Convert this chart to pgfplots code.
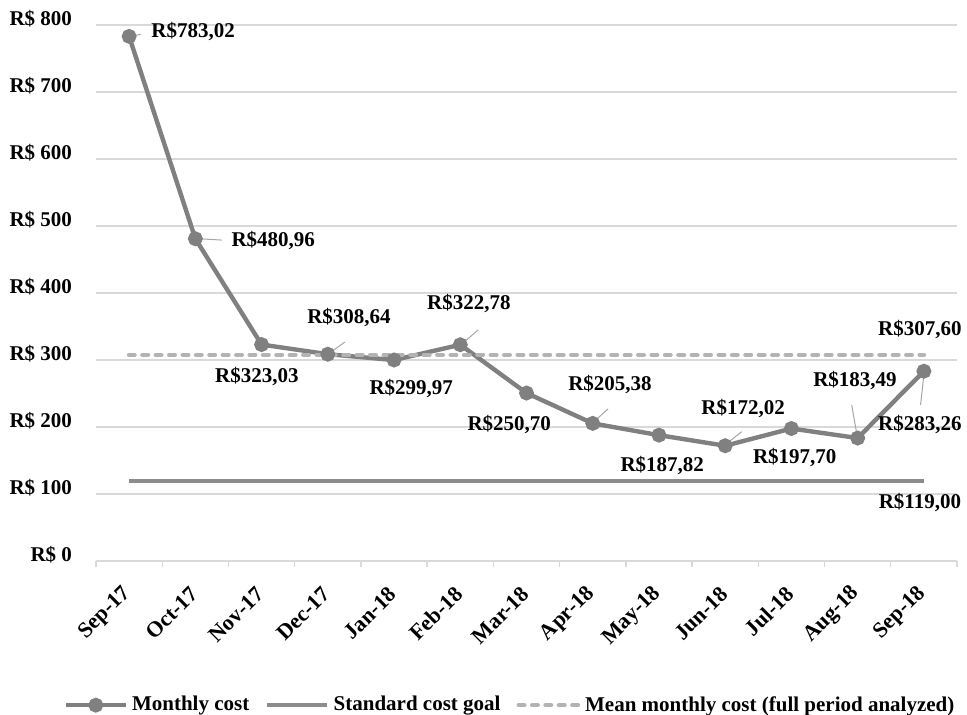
\documentclass[border=0pt]{standalone}
\usepackage{fontspec}
\setmainfont{Liberation Serif}
\usepackage{pgfplots}
\pgfplotsset{compat=1.18}
\definecolor{mline}{HTML}{808080}
\definecolor{gline}{HTML}{8C8C8C}
\definecolor{aline}{HTML}{B3B3B3}
\definecolor{gridc}{HTML}{D9D9D9}
\definecolor{leadc}{HTML}{A6A6A6}
\newcommand{\lf}{\fontsize{10.5}{12}\selectfont\bfseries}
\newcommand{\xf}{\fontsize{11}{13}\selectfont\bfseries}
\begin{document}
\begin{tikzpicture}
\useasboundingbox (0,0) rectangle (483.5pt,357.5pt);
\begin{axis}[
  at={(48pt,77pt)}, anchor=south west,
  scale only axis, width=430.5pt, height=268pt,
  xmin=-0.5, xmax=12.5, ymin=0, ymax=800,
  axis x line*=bottom, axis y line*=left,
  y axis line style={draw=none},
  x axis line style={draw=gridc, line width=0.7pt},
  xtick={0,...,12},
  xticklabels={Sep-17,Oct-17,Nov-17,Dec-17,Jan-18,Feb-18,Mar-18,Apr-18,May-18,Jun-18,Jul-18,Aug-18,Sep-18},
  minor xtick={-0.5,0.5,...,12.5},
  major tick length=0pt, minor tick length=3pt,
  tick align=outside,
  minor tick style={draw=gridc, line width=0.7pt},
  ytick={0,100,...,800},
  yticklabels={R\$ 0,R\$ 100,R\$ 200,R\$ 300,R\$ 400,R\$ 500,R\$ 600,R\$ 700,R\$ 800},
  ymajorgrids, grid style={draw=gridc, line width=0.7pt},
  yticklabel style={font=\lf, xshift=-8.5pt, yshift=3pt},
  xticklabel style={font=\xf, rotate=45, anchor=east, xshift=-7.5pt, yshift=-10pt},
  clip=false,
  legend style={at={(0.482,-0.269)}, anchor=center, draw=none, font=\lf,
    legend columns=3, /tikz/every even column/.append style={column sep=6pt},
    inner sep=0pt},
  legend image code/.code={\draw[#1, mark repeat=2, mark phase=2] plot coordinates {(0pt,0pt) (15pt,0pt) (30pt,0pt)};},
]
\addplot[mline, line width=2.2pt, mark=*, mark size=2.6pt, mark options={fill=mline, draw=mline, solid}]
 coordinates {(0,783.02) (1,480.96) (2,323.03) (3,308.64) (4,299.97) (5,322.78) (6,250.70) (7,205.38) (8,187.82) (9,172.02) (10,197.70) (11,183.49) (12,283.26)};
\addlegendentry{Monthly cost}
\addplot[gline, line width=2.2pt] coordinates {(0,119) (12,119)};
\addlegendentry{Standard cost goal}
\addplot[aline, line width=2.3pt, line cap=round, dash pattern=on 2.7pt off 4pt] coordinates {(0,307.60) (12,307.60)};
\addlegendentry{Mean monthly cost (full period analyzed)}

% leader lines
\draw[leadc, line width=0.5pt] (axis cs:0.05,784) -- (axis cs:0.18,786);
\draw[leadc, line width=0.5pt] (axis cs:1.05,481) -- (axis cs:1.40,479);
\draw[leadc, line width=0.5pt] (axis cs:3.05,312) -- (axis cs:3.26,327);
\draw[leadc, line width=0.5pt] (axis cs:5.05,326) -- (axis cs:5.27,345);
\draw[leadc, line width=0.5pt] (axis cs:7.03,209) -- (axis cs:7.23,227);
\draw[leadc, line width=0.5pt] (axis cs:9.03,176) -- (axis cs:9.25,193);
\draw[leadc, line width=0.5pt] (axis cs:10.99,188) -- (axis cs:10.91,233);
\draw[leadc, line width=0.5pt] (axis cs:12,278) -- (axis cs:11.95,233);

% data labels
\node[font=\lf, anchor=west, inner sep=0pt] at (axis cs:0.33,791) {R\$783,02};
\node[font=\lf, anchor=west, inner sep=0pt] at (axis cs:1.54,479) {R\$480,96};
\node[font=\lf] at (axis cs:1.93,275) {R\$323,03};
\node[font=\lf] at (axis cs:3.32,363) {R\$308,64};
\node[font=\lf] at (axis cs:4.26,258) {R\$299,97};
\node[font=\lf] at (axis cs:5.13,385) {R\$322,78};
\node[font=\lf] at (axis cs:5.74,204) {R\$250,70};
\node[font=\lf] at (axis cs:7.26,263) {R\$205,38};
\node[font=\lf] at (axis cs:8.05,143) {R\$187,82};
\node[font=\lf] at (axis cs:9.27,228) {R\$172,02};
\node[font=\lf] at (axis cs:10.05,155) {R\$197,70};
\node[font=\lf] at (axis cs:10.96,270) {R\$183,49};
\node[font=\lf] at (axis cs:11.94,203) {R\$283,26};
\node[font=\lf] at (axis cs:11.94,346) {R\$307,60};
\node[font=\lf] at (axis cs:11.94,87) {R\$119,00};
\end{axis}
\end{tikzpicture}
\end{document}
